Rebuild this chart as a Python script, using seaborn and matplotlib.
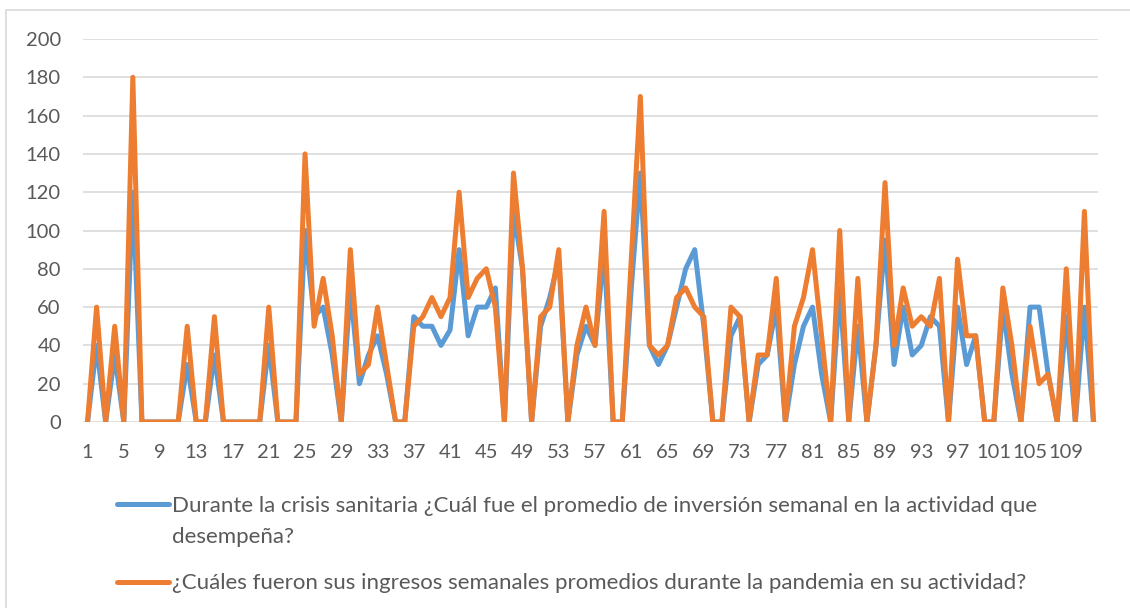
import pandas as pd
import matplotlib.pyplot as plt
import seaborn as sns
from matplotlib.patches import Rectangle

# respondent number (1..112) and the two answers per respondent
respondents = list(range(1, 113))

inversion = [0, 40, 0, 35, 0, 120, 0, 0, 0, 0,
             0, 30, 0, 0, 35, 0, 0, 0, 0, 0,
             40, 0, 0, 0, 100, 55, 60, 35, 0, 70,
             20, 35, 45, 25, 0, 0, 55, 50, 50, 40,
             48, 90, 45, 60, 60, 70, 0, 110, 80, 0,
             50, 65, 85, 0, 35, 50, 40, 90, 0, 0,
             70, 130, 40, 30, 40, 60, 80, 90, 50, 0,
             0, 45, 55, 0, 30, 35, 60, 0, 30, 50,
             60, 25, 0, 70, 0, 50, 0, 40, 95, 30,
             60, 35, 40, 55, 50, 0, 60, 30, 45, 0,
             0, 60, 25, 0, 60, 60, 25, 0, 55, 0,
             60, 0]

ingresos = [0, 60, 0, 50, 0, 180, 0, 0, 0, 0,
            0, 50, 0, 0, 55, 0, 0, 0, 0, 0,
            60, 0, 0, 0, 140, 50, 75, 45, 0, 90,
            25, 30, 60, 30, 0, 0, 50, 55, 65, 55,
            65, 120, 65, 75, 80, 60, 0, 130, 80, 0,
            55, 60, 90, 0, 40, 60, 40, 110, 0, 0,
            85, 170, 40, 35, 40, 65, 70, 60, 55, 0,
            0, 60, 55, 0, 35, 35, 75, 0, 50, 65,
            90, 45, 0, 100, 0, 75, 0, 40, 125, 40,
            70, 50, 55, 50, 75, 0, 85, 45, 45, 0,
            0, 70, 40, 0, 50, 20, 25, 0, 80, 0,
            110, 0]

# first legend label wraps onto a second line in the original
label_inv = "Durante la crisis sanitaria ¿Cuál fue el promedio de inversión semanal en la actividad que"
label_inv_2 = "desempeña?"
label_ing = "¿Cuáles fueron sus ingresos semanales promedios durante la pandemia en su actividad?"

xtick_pos = list(range(1, 113, 4))

df = pd.DataFrame({
    'respondent': respondents * 2,
    'value': inversion + ingresos,
    'serie': [label_inv] * len(inversion) + [label_ing] * len(ingresos),
})

sns.set_theme(style='white')
plt.rcParams['font.family'] = ['Lato', 'DejaVu Sans']

fig = plt.figure(figsize=(11.3, 6.08), dpi=100)
ax = fig.add_axes([83 / 1130, 1 - 422 / 608, (1098 - 83) / 1130, (422 - 39) / 608])

sns.lineplot(data=df, x='respondent', y='value', hue='serie',
             palette=['#5B9BD5', '#ED7D31'], linewidth=3.6, ax=ax,
             solid_joinstyle='round', solid_capstyle='round')

ax.set_xlim(0.5, 112.5)
ax.set_ylim(0, 200)
ax.set_yticks(range(0, 201, 20))
ax.set_xticks(xtick_pos)
ax.set_xticklabels([str(v) for v in xtick_pos])
ax.tick_params(axis='both', length=0, labelsize=14.5, colors='#595959')
ax.tick_params(axis='y', pad=16)
ax.tick_params(axis='x', pad=16)
ax.set_xlabel('')
ax.set_ylabel('')
ax.yaxis.grid(True, color='#D9D9D9', linewidth=1.2)
ax.set_axisbelow(True)
for s in ax.spines.values():
    s.set_visible(False)

sns.move_legend(ax, 'upper left', bbox_to_anchor=(117 / 1130, 1 - 496 / 608),
                bbox_transform=fig.transFigure, title=None, frameon=False,
                fontsize=16, handlelength=2.35, handletextpad=0.12,
                labelspacing=2.58, borderpad=0, borderaxespad=0)
for t in ax.get_legend().get_texts():
    t.set_color('#595959')

fig.text(172 / 1130, 1 - 537 / 608, label_inv_2, fontsize=16, color='#595959',
         ha='left', va='center')

fig.patches.append(Rectangle((6 / 1130, -0.1), 1.2, 1 - 10 / 608 + 0.1,
                             transform=fig.transFigure, fill=False,
                             edgecolor='#D9D9D9', linewidth=1.2))

fig.savefig('out.png', dpi=100)
